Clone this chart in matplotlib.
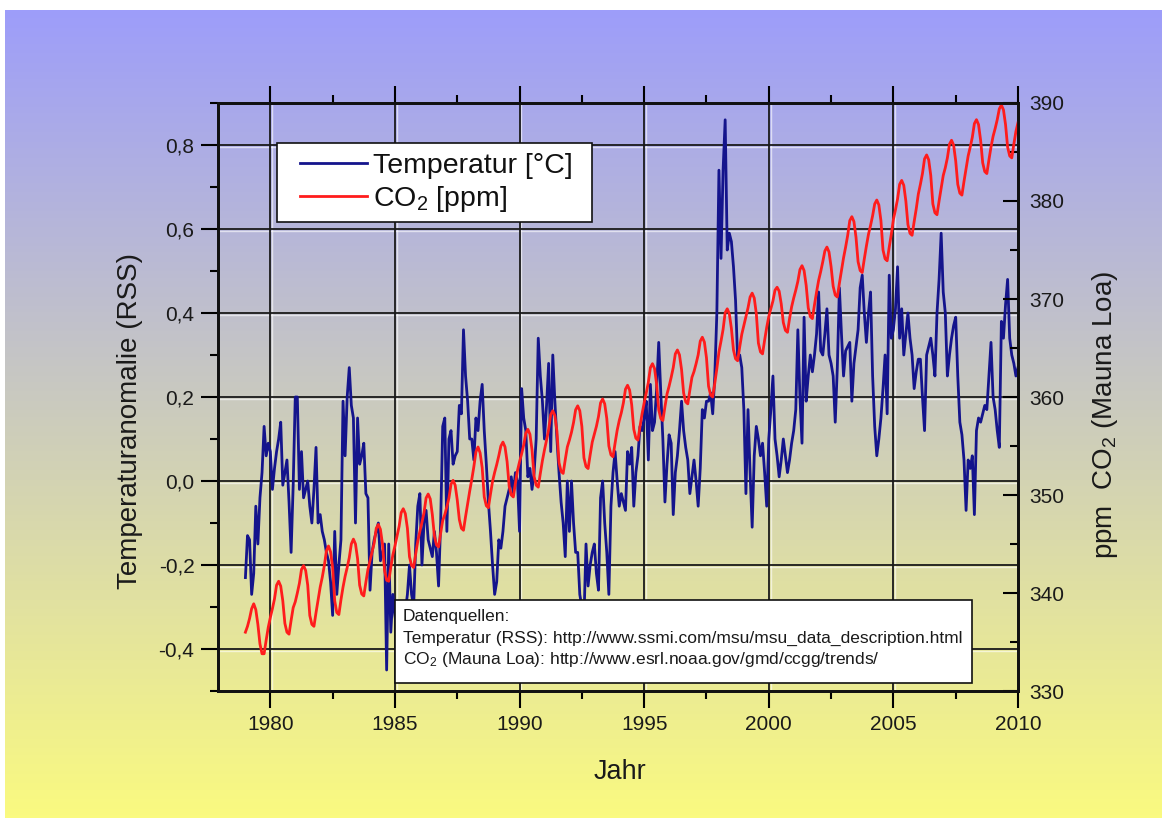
import numpy as np
import matplotlib
matplotlib.use("Agg")
import matplotlib.pyplot as plt
from matplotlib.patches import Rectangle
from matplotlib.ticker import MultipleLocator, FuncFormatter

plt.rcParams['font.family'] = ['Liberation Sans', 'DejaVu Sans']
plt.rcParams['mathtext.default'] = 'regular'

start_year = 1979

# RSS temperature anomaly, monthly from Jan 1979 (one row per year)
temp_anomaly = [
    -0.23, -0.13, -0.14, -0.27, -0.22, -0.06, -0.15, -0.04, 0.02, 0.13, 0.06, 0.09,
    0.07, -0.02, 0.03, 0.07, 0.10, 0.14, -0.01, 0.02, 0.05, -0.05, -0.17, -0.01,
    0.20, 0.20, -0.02, 0.07, -0.04, -0.02, 0.00, -0.06, -0.10, -0.02, 0.08, -0.10,
    -0.08, -0.12, -0.14, -0.17, -0.19, -0.24, -0.32, -0.12, -0.27, -0.20, -0.14, 0.19,
    0.06, 0.20, 0.27, 0.18, 0.15, -0.10, 0.15, 0.04, 0.06, 0.09, -0.03, -0.04,
    -0.26, -0.17, -0.14, -0.12, -0.10, -0.19, -0.17, -0.15, -0.45, -0.15, -0.36, -0.27,
    -0.32, -0.36, -0.30, -0.34, -0.38, -0.31, -0.27, -0.20, -0.27, -0.30, -0.15, -0.06,
    -0.03, -0.20, -0.10, -0.07, -0.14, -0.16, -0.18, -0.12, -0.17, -0.25, -0.10, 0.13,
    0.15, -0.12, 0.10, 0.12, 0.04, 0.06, 0.07, 0.18, 0.16, 0.36, 0.25, 0.19,
    0.10, 0.10, 0.05, 0.15, 0.12, 0.19, 0.23, 0.12, 0.04, -0.05, -0.12, -0.20,
    -0.27, -0.24, -0.14, -0.16, -0.12, -0.06, -0.04, -0.02, 0.01, -0.03, 0.02, 0.00,
    -0.12, 0.22, 0.15, 0.12, 0.01, 0.03, -0.02, 0.02, 0.10, 0.34, 0.25, 0.19,
    0.10, 0.18, 0.28, 0.07, 0.30, 0.19, 0.10, 0.02, -0.05, -0.10, -0.18, 0.00,
    -0.12, 0.00, -0.10, -0.17, -0.17, -0.27, -0.30, -0.33, -0.15, -0.25, -0.20, -0.17,
    -0.15, -0.22, -0.26, -0.04, 0.00, -0.10, -0.17, -0.27, -0.06, 0.02, 0.07, 0.00,
    -0.06, -0.03, -0.05, -0.07, 0.07, 0.04, 0.08, -0.06, 0.02, 0.06, 0.13, 0.12,
    0.15, 0.19, 0.05, 0.23, 0.12, 0.14, 0.22, 0.33, 0.21, 0.10, -0.05, 0.04,
    0.11, 0.09, -0.08, 0.02, 0.06, 0.12, 0.19, 0.12, 0.08, 0.05, -0.03, 0.01,
    0.05, 0.00, -0.06, 0.03, 0.17, 0.15, 0.19, 0.19, 0.21, 0.16, 0.25, 0.40,
    0.74, 0.53, 0.74, 0.86, 0.55, 0.59, 0.57, 0.51, 0.43, 0.29, 0.30, 0.27,
    0.17, -0.03, 0.17, 0.02, -0.11, 0.06, 0.13, 0.10, 0.06, 0.09, 0.02, -0.06,
    0.10, 0.17, 0.25, 0.10, 0.06, 0.01, 0.05, 0.10, 0.06, 0.02, 0.05, 0.09,
    0.12, 0.17, 0.36, 0.20, 0.09, 0.39, 0.19, 0.25, 0.30, 0.26, 0.30, 0.35,
    0.45, 0.31, 0.30, 0.35, 0.41, 0.30, 0.28, 0.25, 0.14, 0.27, 0.46, 0.35,
    0.25, 0.31, 0.32, 0.33, 0.19, 0.28, 0.32, 0.36, 0.46, 0.49, 0.40, 0.33,
    0.40, 0.45, 0.25, 0.13, 0.06, 0.10, 0.15, 0.22, 0.30, 0.16, 0.49, 0.34,
    0.36, 0.41, 0.51, 0.34, 0.41, 0.30, 0.35, 0.40, 0.34, 0.30, 0.22, 0.26,
    0.29, 0.29, 0.20, 0.12, 0.30, 0.32, 0.34, 0.30, 0.25, 0.40, 0.48, 0.59,
    0.45, 0.40, 0.25, 0.30, 0.34, 0.37, 0.39, 0.25, 0.14, 0.11, 0.05, -0.07,
    0.05, 0.03, 0.06, -0.08, 0.12, 0.15, 0.14, 0.16, 0.18, 0.17, 0.25, 0.33,
    0.20, 0.17, 0.12, 0.08, 0.38, 0.34, 0.42, 0.48, 0.34, 0.30, 0.28, 0.25,
    0.27,
]

# Mauna Loa CO2 in ppm, monthly from Jan 1979 (one row per year)
co2_ppm = [
    336.0, 336.6, 337.4, 338.4, 338.9, 338.3, 336.8, 334.8, 333.8, 333.8, 335.2, 336.5,
    337.5, 338.4, 339.4, 340.8, 341.2, 340.7, 339.2, 336.9, 336.0, 335.8, 337.2, 338.5,
    339.1, 340.0, 341.0, 342.4, 342.8, 342.3, 340.8, 337.7, 336.8, 336.6, 338.0, 339.3,
    340.6, 341.6, 342.8, 344.3, 344.8, 344.2, 342.6, 339.2, 338.0, 337.8, 339.3, 340.6,
    341.7, 342.6, 343.6, 345.0, 345.5, 345.0, 343.5, 340.8, 339.9, 339.7, 341.1, 342.4,
    343.3, 344.2, 345.1, 346.6, 347.0, 346.5, 345.0, 342.3, 341.3, 341.2, 342.6, 343.9,
    344.8, 345.8, 346.8, 348.2, 348.6, 348.1, 346.6, 343.7, 342.8, 342.6, 344.0, 345.3,
    346.3, 347.2, 348.2, 349.7, 350.1, 349.6, 348.0, 345.8, 344.9, 344.7, 346.1, 347.4,
    348.0, 348.8, 349.7, 351.1, 351.5, 351.0, 349.5, 347.5, 346.6, 346.4, 347.8, 349.1,
    350.4, 351.6, 352.9, 354.4, 354.9, 354.3, 352.8, 349.8, 348.9, 348.7, 350.1, 351.4,
    352.3, 353.1, 354.0, 355.0, 355.4, 354.9, 353.4, 350.9, 350.0, 349.8, 351.2, 352.5,
    353.4, 354.2, 355.1, 356.3, 356.7, 356.2, 354.6, 351.9, 351.0, 350.8, 352.2, 353.5,
    354.6, 355.6, 356.7, 358.2, 358.6, 358.1, 356.5, 353.3, 352.4, 352.2, 353.6, 354.9,
    355.6, 356.4, 357.4, 358.7, 359.1, 358.6, 357.0, 353.8, 352.9, 352.7, 354.1, 355.4,
    356.2, 357.0, 358.0, 359.4, 359.8, 359.3, 357.8, 355.0, 354.1, 353.9, 355.3, 356.6,
    357.6, 358.4, 359.4, 360.8, 361.2, 360.7, 359.2, 356.7, 355.8, 355.6, 357.0, 358.3,
    359.4, 360.4, 361.5, 363.0, 363.4, 362.9, 361.3, 358.7, 357.8, 357.6, 359.0, 360.3,
    361.1, 362.0, 363.0, 364.4, 364.8, 364.3, 362.8, 360.4, 359.5, 359.3, 360.7, 362.0,
    362.6, 363.4, 364.3, 365.7, 366.1, 365.6, 364.0, 361.1, 360.2, 360.0, 361.4, 362.9,
    364.6, 365.7, 366.9, 368.6, 369.0, 368.5, 367.0, 364.8, 363.9, 363.7, 365.1, 366.4,
    367.3, 368.2, 369.1, 370.2, 370.6, 370.1, 368.5, 365.5, 364.6, 364.4, 365.8, 367.1,
    368.2, 369.0, 369.8, 370.9, 371.2, 370.8, 369.5, 367.6, 366.8, 366.6, 368.0, 369.2,
    370.1, 370.9, 371.8, 373.0, 373.4, 372.9, 371.4, 369.1, 368.2, 368.0, 369.4, 370.7,
    371.9, 372.8, 373.8, 374.9, 375.3, 374.8, 373.3, 371.3, 370.4, 370.2, 371.6, 372.9,
    374.2, 375.3, 376.5, 378.0, 378.4, 377.9, 376.3, 373.8, 372.9, 372.7, 374.1, 375.4,
    376.6, 377.5, 378.5, 379.7, 380.1, 379.6, 378.0, 375.0, 374.1, 373.9, 375.3, 376.6,
    378.1, 379.1, 380.2, 381.7, 382.1, 381.6, 380.0, 377.6, 376.7, 376.5, 377.9, 379.2,
    380.7, 381.7, 382.8, 384.3, 384.7, 384.2, 382.6, 379.7, 378.8, 378.6, 380.0, 381.3,
    382.6, 383.4, 384.4, 385.8, 386.2, 385.7, 384.1, 381.7, 380.8, 380.6, 382.0, 383.3,
    384.6, 385.5, 386.5, 387.9, 388.3, 387.8, 386.2, 383.9, 383.0, 382.8, 384.2, 385.5,
    386.6, 387.4, 388.3, 389.4, 389.8, 389.3, 387.8, 385.5, 384.6, 384.4, 385.8, 387.1,
    388.0,
]

temp_ticks = [-0.4, -0.2, 0.0, 0.2, 0.4, 0.6, 0.8]
co2_ticks = [330, 340, 350, 360, 370, 380, 390]
year_ticks = [1980, 1985, 1990, 1995, 2000, 2005, 2010]

sources_title = "Datenquellen:"
source_temp = "Temperatur (RSS): http://www.ssmi.com/msu/msu_data_description.html"
source_co2 = "CO$_2$ (Mauna Loa): http://www.esrl.noaa.gov/gmd/ccgg/trends/"

years_t = start_year + np.arange(len(temp_anomaly)) / 12.0
years_c = start_year + np.arange(len(co2_ppm)) / 12.0

W, H = 1167, 821
fig = plt.figure(figsize=(W / 100, H / 100), dpi=100, facecolor='white')

# background gradient blue -> yellow
bg = fig.add_axes([5 / W, 3 / H, 1157 / W, 808 / H])
bg.set_zorder(-5)
top_c = np.array([157, 157, 250]) / 255.0
bot_c = np.array([250, 250, 128]) / 255.0
t = np.linspace(0, 1, 256)[:, None, None]
grad = top_c * (1 - t) + bot_c * t
bg.imshow(grad, aspect='auto', extent=[0, 1, 0, 1])
bg.axis('off')

ax = fig.add_axes([218 / W, 1 - 691 / H, 800 / W, 588 / H])
ax.set_facecolor('none')
ax2 = ax.twinx()

ax.set_xlim(1977.9, 2010)
ax.set_ylim(-0.5, 0.9)
ax2.set_ylim(330, 390)

# grid lines with a light "shadow" line next to them
for yr in year_ticks[:-1]:
    ax.axvline(yr + 0.07, color='white', linewidth=1.0, alpha=0.6, zorder=0.5)
    ax.axvline(yr, color='#1a1a1a', linewidth=1.3, zorder=0.6)
for v in temp_ticks:
    ax.axhline(v - 0.0045, color='white', linewidth=1.0, alpha=0.6, zorder=0.5)
    ax.axhline(v, color='#1a1a1a', linewidth=1.3, zorder=0.6)

l1, = ax.plot(years_t, temp_anomaly, color='#14148c', linewidth=2.0,
              label='Temperatur [°C]', zorder=2)
l2, = ax2.plot(years_c, co2_ppm, color='#ff1c1c', linewidth=2.0,
               label='CO$_2$ [ppm]', zorder=2)

ax.set_xticks(year_ticks)
ax.xaxis.set_minor_locator(MultipleLocator(2.5))
ax.set_yticks(temp_ticks)
ax.yaxis.set_minor_locator(MultipleLocator(0.1))
ax.yaxis.set_major_formatter(FuncFormatter(lambda v, p: f"{v:.1f}".replace('.', ',')))
ax2.set_yticks(co2_ticks)
ax2.yaxis.set_minor_locator(MultipleLocator(5))

tick_col = '#1a1a1a'
ax.tick_params(axis='x', which='both', direction='out', top=True, bottom=True,
               labelsize=15, labelcolor=tick_col, pad=5)
ax.tick_params(axis='x', which='major', length=12, width=1.5)
ax.tick_params(axis='x', which='minor', length=6, width=1.5)
ax.tick_params(axis='y', which='both', direction='out', left=True, right=False,
               labelsize=15, labelcolor=tick_col, pad=5)
ax.tick_params(axis='y', which='major', length=12, width=1.5)
ax.tick_params(axis='y', which='minor', length=6, width=1.5)
ax2.tick_params(axis='y', which='both', direction='in', labelsize=15,
                labelcolor=tick_col, pad=8)
ax2.tick_params(axis='y', which='major', length=11, width=1.5)
ax2.tick_params(axis='y', which='minor', length=6, width=1.5)

for a in (ax, ax2):
    for s in a.spines.values():
        s.set_linewidth(2)
        s.set_color('#111111')

ax.set_xlabel('Jahr', fontsize=19.5, color=tick_col)
ax.xaxis.set_label_coords(0.5025, -0.115)
ax.set_ylabel('Temperaturanomalie (RSS)', fontsize=20, color=tick_col)
ax.yaxis.set_label_coords(-0.094, 0.459)
ax2.set_ylabel('ppm  CO$_2$ (Mauna Loa)', fontsize=20, color=tick_col)
ax2.yaxis.set_label_coords(1.09, 0.469)

# legend: own frame, frameless legend placed inside it
ax2.add_patch(Rectangle((0.07375, 0.7976), 0.394, 0.1344, transform=ax2.transAxes,
                        facecolor='white', edgecolor='#111111', linewidth=1.2, zorder=8))
leg = ax2.legend(handles=[l1, l2], loc='upper left', bbox_to_anchor=(0.1025, 0.9155),
                 borderaxespad=0, borderpad=0, fontsize=20.5, frameon=False,
                 handlelength=2.35, handletextpad=0.22, labelspacing=0.18)
for txt in leg.get_texts():
    txt.set_color('#111111')
leg.set_zorder(10)

# data sources box
ax2.add_patch(Rectangle((0.221, 0.0136), 0.721, 0.141, transform=ax2.transAxes,
                        facecolor='white', edgecolor='#111111', linewidth=1.2, zorder=8))
for txt, yy in zip([sources_title, source_temp, source_co2], [0.126, 0.090, 0.054]):
    ax2.text(0.231, yy, txt, transform=ax2.transAxes, fontsize=12.5, color='#1a1a1a',
             va='center', ha='left', zorder=9)

fig.savefig('out.png', dpi=100, facecolor='white')
